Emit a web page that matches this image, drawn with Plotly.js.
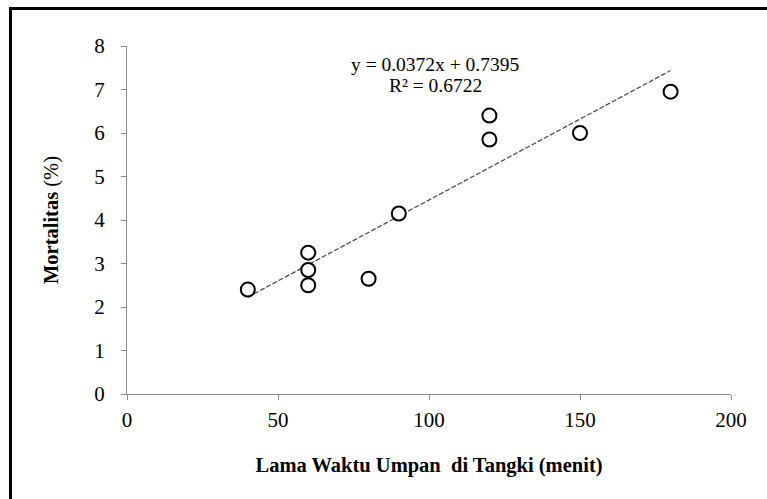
<!DOCTYPE html>
<html>
<head>
<meta charset="utf-8">
<script src="https://cdn.plot.ly/plotly-3.0.1.min.js"></script>
<style>
  html, body { margin: 0; padding: 0; background: #fff; }
  #wrap { position: relative; width: 767px; height: 499px; overflow: hidden; }
  #chart { position: absolute; left: 0; top: 0; width: 767px; height: 499px; }
  #frame { position: absolute; left: 9px; top: 7px; width: 800px; height: 600px;
           border-left: 3px solid #000; border-top: 3px solid #000; pointer-events: none; }
</style>
</head>
<body>
<div id="wrap">
  <div id="chart"></div>
  <div id="frame"></div>
</div>
<script>
// Data
const waktu = [40, 60, 60, 60, 80, 90, 120, 120, 150, 180];
const mortalitas = [2.4, 3.25, 2.85, 2.5, 2.65, 4.15, 6.4, 5.85, 6.0, 6.95];
// Linear trendline endpoints (y = 0.0372x + 0.7395)
const trendX = [40, 180];
const trendY = [2.2275, 7.4355];
const xTicks = [0, 50, 100, 150, 200];
const yTicks = [0, 1, 2, 3, 4, 5, 6, 7, 8];
const eqLine1 = 'y = 0.0372x + 0.7395';
const eqLine2 = 'R² = 0.6722';

const serif = '"Liberation Serif", "Times New Roman", serif';

const traces = [
  {
    x: trendX, y: trendY, type: 'scatter', mode: 'lines',
    line: { color: '#444', width: 1.2, dash: '5px,2px' },
    hoverinfo: 'skip', showlegend: false
  },
  {
    x: waktu, y: mortalitas, type: 'scatter', mode: 'markers',
    marker: { symbol: 'circle', size: 14, color: '#fff', line: { color: '#000', width: 2 } },
    showlegend: false
  }
];

const layout = {
  width: 767, height: 499,
  margin: { l: 127, r: 36, t: 46, b: 105 },
  paper_bgcolor: 'rgba(0,0,0,0)', plot_bgcolor: '#fff',
  font: { family: serif, color: '#000', size: 18 },
  showlegend: false,
  xaxis: {
    range: [0, 200], tickvals: xTicks, ticktext: xTicks.map(String),
    showgrid: false, zeroline: false, showline: true, linecolor: '#8c8c8c', linewidth: 1,
    ticks: 'outside', ticklen: 5, tickcolor: '#8c8c8c', tickwidth: 1,
    ticklabelstandoff: 2,
    tickfont: { family: serif, size: 21, color: '#000' },
    title: { text: '<b>Lama Waktu Umpan  di Tangki (menit)</b>', font: { family: serif, size: 20.5, color: '#000' }, standoff: 26 }
  },
  yaxis: {
    range: [0, 8], tickvals: yTicks, ticktext: yTicks.map(String),
    showgrid: false, zeroline: false, showline: true, linecolor: '#8c8c8c', linewidth: 1,
    ticks: 'outside', ticklen: 5, tickcolor: '#8c8c8c', tickwidth: 1,
    ticklabelstandoff: 12,
    tickfont: { family: serif, size: 21, color: '#000' },
    title: { text: '<b>Mortalitas</b> (%)', font: { family: serif, size: 20.5, color: '#000' }, standoff: 30 }
  },
  annotations: [
    { xref: 'x', yref: 'y', x: 102, y: 7.57, text: eqLine1, showarrow: false,
      font: { family: serif, size: 19.5, color: '#000' } },
    { xref: 'x', yref: 'y', x: 102, y: 7.1, text: eqLine2, showarrow: false,
      font: { family: serif, size: 19.5, color: '#000' } }
  ]
};

Plotly.newPlot('chart', traces, layout, { displayModeBar: false, staticPlot: true });
</script>
</body>
</html>
